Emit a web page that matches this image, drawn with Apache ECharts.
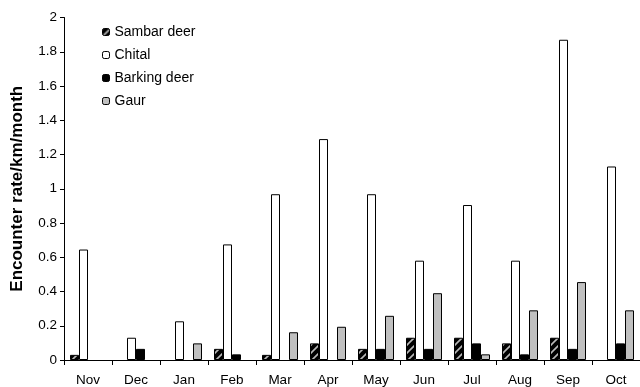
<!DOCTYPE html>
<html>
<head>
<meta charset="utf-8">
<script src="https://cdn.jsdelivr.net/npm/echarts@6/dist/echarts.min.js"></script>
<style>
html,body{margin:0;padding:0;background:#fff;}
#chart{width:640px;height:387px;}
</style>
</head>
<body>
<div id="chart"></div>
<script>
var months = ['Nov','Dec','Jan','Feb','Mar','Apr','May','Jun','Jul','Aug','Sep','Oct'];
var sambarDeer  = [0.03, 0,    0,    0.065, 0.03, 0.097, 0.065, 0.13, 0.13,  0.097, 0.13, 0];
var chital      = [0.645,0.13, 0.226,0.675, 0.968,1.29,  0.968, 0.58, 0.905, 0.58,  1.87, 1.13];
var barkingDeer = [0,    0.065,0,    0.033, 0,    0,     0.065, 0.065,0.097, 0.033, 0.065,0.097];
var gaur        = [0,    0,    0.097,0,     0.162,0.194, 0.258, 0.39, 0.033, 0.29,  0.455,0.29];
var yTicks = [0,0.2,0.4,0.6,0.8,1,1.2,1.4,1.6,1.8,2];

var FONT = 'Liberation Sans, Arial, sans-serif';

function stripePattern(){
  var c = document.createElement('canvas');
  c.width = 8; c.height = 8;
  var g = c.getContext('2d');
  g.fillStyle = '#000';
  g.fillRect(0,0,8,8);
  g.strokeStyle = '#b8b8b8';
  g.lineWidth = 1.6;
  g.beginPath();
  g.moveTo(-2,10); g.lineTo(10,-2);
  g.moveTo(-2,2); g.lineTo(2,-2);
  g.moveTo(6,10); g.lineTo(10,6);
  g.stroke();
  return c;
}
var pat = {image: stripePattern(), repeat: 'repeat'};

var chart = echarts.init(document.getElementById('chart'), null, {renderer:'canvas'});
var border = {borderColor:'#000', borderWidth:1};
function series(name, data, color){
  return {
    name: name, type:'bar',
    data: data.map(function(v){ return v === 0 ? '-' : v; }),
    barGap: '0%', barCategoryGap: '25%',
    itemStyle: Object.assign({color: color}, border),
    emphasis:{disabled:true}
  };
}
chart.setOption({
  animation:false,
  backgroundColor:'#fff',
  textStyle:{fontFamily:FONT, color:'#000'},
  grid:{left:64, right:-7, top:17.5, bottom:26.5, containLabel:false},
  legend:{
    orient:'vertical', left:97, top:20,
    itemWidth:7, itemHeight:7, itemGap:9,
    textStyle:{fontSize:14, color:'#000', lineHeight:14, fontFamily:FONT},
    itemStyle:{borderColor:'#000', borderWidth:1},
    data:['Sambar deer','Chital','Barking deer','Gaur']
  },
  xAxis:{
    type:'category', data: months,
    axisLine:{lineStyle:{color:'#000', width:1}},
    axisTick:{show:true, length:5, lineStyle:{color:'#000'}},
    axisLabel:{color:'#000', fontSize:13.5, margin:13, fontFamily:FONT},
    splitLine:{show:false}
  },
  yAxis:{
    type:'value', min:0, max:2, interval:0.2,
    name:'Encounter rate/km/month', nameLocation:'middle', nameGap:38,
    nameTextStyle:{fontSize:17, fontWeight:'bold', color:'#000', fontFamily:FONT},
    axisLine:{show:true, lineStyle:{color:'#000', width:1}},
    axisTick:{show:true, length:4, lineStyle:{color:'#000'}},
    axisLabel:{color:'#000', fontSize:13.5, margin:7, fontFamily:FONT,
      formatter:function(v){ var i = yTicks.indexOf(Math.round(v*10)/10); return i>=0 ? String(yTicks[i]) : ''; }},
    splitLine:{show:false}
  },
  series:[
    series('Sambar deer', sambarDeer, pat),
    series('Chital', chital, '#fff'),
    series('Barking deer', barkingDeer, '#000'),
    series('Gaur', gaur, '#c0c0c0')
  ]
});
</script>
</body>
</html>
